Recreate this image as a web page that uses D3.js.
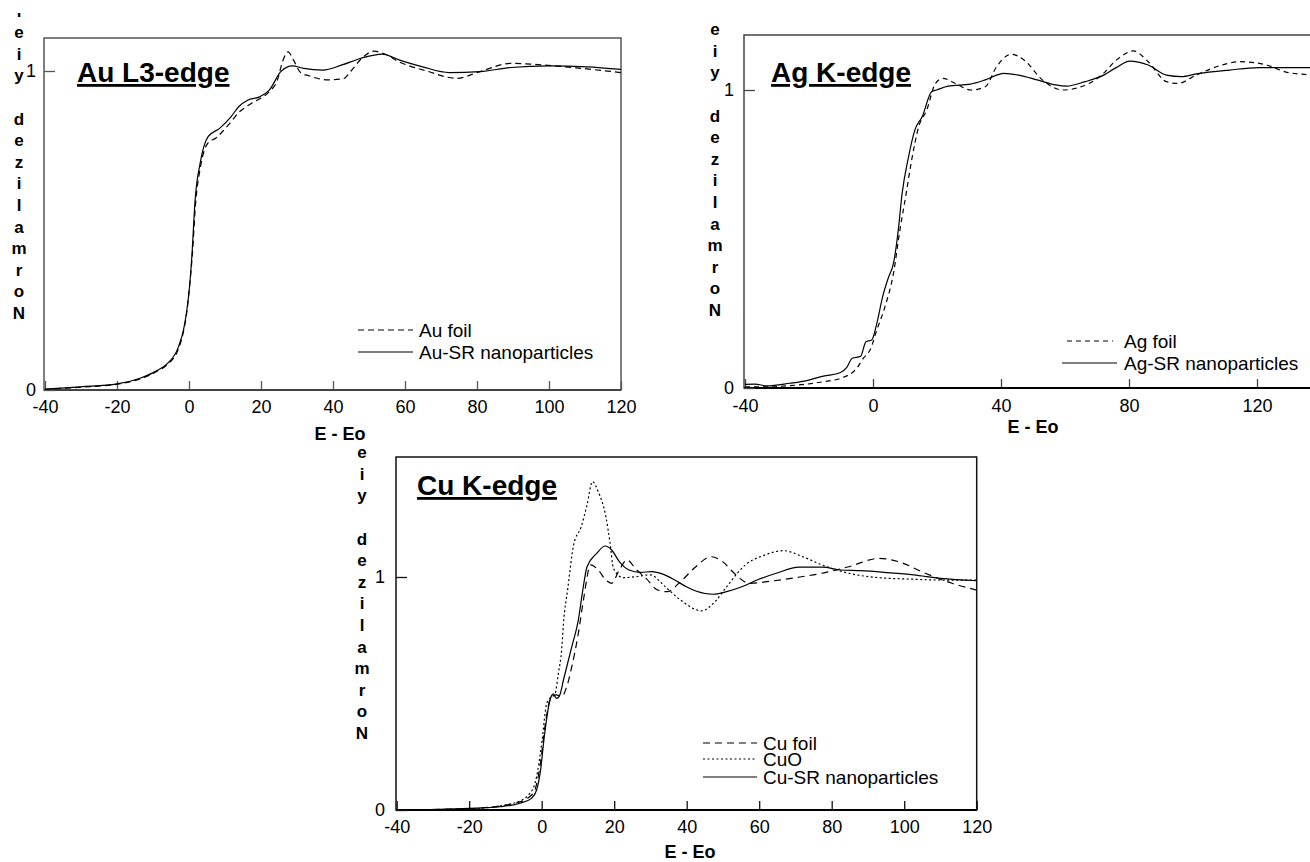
<!DOCTYPE html>
<html><head><meta charset="utf-8">
<script src="https://cdn.jsdelivr.net/npm/d3@7"></script>
<style>
body{margin:0;background:#fff;}
svg{display:block;font-family:"Liberation Sans",Arial,Helvetica,sans-serif;}
</style></head><body>
<svg id="chart" width="1310" height="862"></svg>
<script>
// ---------- data ----------
const auTicks=[-40,-20,0,20,40,60,80,100,120];
const agTicks=[-40,0,40,80,120];
const cuTicks=[-40,-20,0,20,40,60,80,100,120];
const yTicks=[0,1];
const yLabelText="Normalized yiel";
const xLabelText="E - Eo";

const auFoil=[[-40,0.002],[-30,0.009],[-20,0.018],[-13.6,0.035],[-9,0.058],[-6.2,0.078],[-2.9,0.13],[-1.5,0.185],[-0.6,0.245],[0.2,0.33],[0.9,0.42],[1.8,0.58],[3.2,0.70],[5.3,0.775],[7.5,0.79],[9.7,0.815],[12,0.845],[13.8,0.87],[15.5,0.885],[17.5,0.9],[20,0.915],[22.3,0.935],[24.5,0.97],[26,1.03],[27.5,1.06],[29,1.035],[31,0.995],[33.3,0.985],[38.6,0.972],[42.9,0.976],[45,1.0],[48,1.04],[51.4,1.062],[54,1.055],[58.5,1.028],[66,1.0],[74.4,0.977],[80.8,0.998],[89.4,1.024],[97,1.02],[107.5,1.01],[120,0.995]];
const auNano=[[-40,0.003],[-30,0.01],[-20,0.019],[-13.6,0.037],[-9,0.06],[-6.2,0.081],[-2.9,0.136],[-1.5,0.19],[-0.6,0.25],[0.2,0.33],[0.8,0.42],[1.7,0.596],[3.1,0.711],[5.3,0.794],[8.5,0.82],[11.7,0.857],[13.8,0.888],[16.4,0.909],[19.6,0.919],[22.3,0.94],[25.5,0.998],[28.7,1.016],[31.9,1.008],[37.2,1.003],[42.5,1.019],[47.8,1.04],[53.7,1.053],[58.5,1.034],[64.9,1.013],[72.3,0.995],[80.8,0.998],[89.4,1.011],[100,1.016],[110.6,1.013],[120,1.005]];

const agFoil=[[-40,0.004],[-33,0.004],[-26,0.008],[-20.7,0.013],[-15,0.022],[-10.3,0.032],[-5.1,0.066],[-3,0.1],[-0.9,0.128],[1.2,0.195],[3.75,0.273],[6.4,0.385],[8.4,0.53],[10.2,0.642],[12,0.76],[14.3,0.877],[16.8,0.933],[19.5,1.022],[21.8,1.039],[25.8,1.022],[30.5,1.0],[35.1,1.011],[38.6,1.078],[43.2,1.12],[47.8,1.095],[52.4,1.039],[59.4,1.0],[63.9,1.007],[70.9,1.045],[76.7,1.106],[81.4,1.131],[86,1.095],[91.7,1.028],[95.2,1.022],[101,1.05],[109.1,1.084],[114.8,1.095],[123,1.084],[128.8,1.061],[136.6,1.05],[140,1.045]];
const agNano=[[-40,0.012],[-36.9,0.013],[-33.2,0.007],[-26,0.016],[-20.7,0.025],[-15.5,0.04],[-10.3,0.051],[-8.2,0.069],[-6.5,0.1],[-3.9,0.106],[-2.2,0.155],[-0.4,0.161],[1.2,0.217],[3,0.306],[4.8,0.37],[6.4,0.418],[7.9,0.53],[9.1,0.653],[11,0.77],[13.1,0.866],[15.4,0.911],[18.3,0.994],[19.9,1.0],[23.5,1.013],[30.5,1.02],[35.1,1.034],[40.9,1.056],[45.5,1.05],[51.3,1.034],[57.1,1.017],[60.5,1.013],[66.3,1.028],[72.1,1.05],[76,1.075],[80.2,1.097],[86,1.084],[91.7,1.05],[96.4,1.045],[101,1.054],[111.4,1.067],[120.6,1.075],[128.8,1.075],[140,1.075]];

const cuFoil=[[-40,0.0],[-20,0.006],[-6.9,0.031],[-2.3,0.072],[-0.5,0.186],[0.9,0.358],[2.3,0.472],[4.1,0.494],[5.5,0.487],[6.9,0.529],[8.3,0.615],[10.1,0.758],[11.5,0.9],[13.5,1.052],[15.6,1.03],[17.7,0.987],[19.3,0.973],[21.4,1.03],[23.5,1.073],[26.2,1.03],[28.8,0.994],[32,0.944],[34.6,0.937],[38.3,0.98],[42.5,1.044],[46.7,1.087],[49.9,1.066],[53.1,1.016],[57.3,0.973],[63.6,0.983],[69.9,0.997],[77.3,1.016],[84.7,1.044],[93.1,1.08],[98.4,1.066],[105.8,1.016],[113.2,0.973],[120,0.944]];
const cuO=[[-40,0.0],[-20,0.005],[-7.8,0.029],[-3.2,0.072],[-1.4,0.143],[0,0.286],[1.4,0.458],[2.3,0.48],[3.7,0.5],[4.6,0.587],[5.5,0.687],[6.0,0.8],[7.2,0.951],[8.8,1.137],[10.9,1.216],[12.5,1.309],[14.0,1.409],[15.6,1.366],[17.7,1.259],[18.8,1.152],[19.8,1.037],[22.5,0.997],[25.6,1.001],[29.9,1.009],[34.1,0.958],[38.3,0.901],[44.1,0.855],[47.8,0.894],[51,0.958],[56.2,1.052],[61.5,1.094],[66.7,1.113],[72,1.087],[77.3,1.052],[84.7,1.016],[93.1,0.997],[101.6,0.991],[110,0.987],[120,0.987]];
const cuNano=[[-40,0.0],[-20,0.007],[-11.5,0.014],[-6,0.029],[-2.8,0.05],[-1.4,0.086],[-0.3,0.172],[0.6,0.3],[2.3,0.472],[3.2,0.498],[4.1,0.479],[5,0.494],[6,0.558],[8.3,0.701],[10.1,0.815],[11.2,0.93],[12.5,1.044],[15.1,1.1],[17.5,1.133],[19.3,1.116],[21.4,1.066],[24.1,1.03],[27.2,1.02],[30.4,1.023],[33.6,1.011],[36.7,0.987],[39.9,0.958],[42.5,0.94],[47.3,0.926],[51,0.937],[55.2,0.958],[59.4,0.987],[64.7,1.016],[71,1.042],[77.3,1.042],[82.6,1.03],[87.9,1.027],[95.2,1.019],[102.6,1.009],[110,0.994],[120,0.984]];

// ---------- layout ----------
const panels=[
 {key:"au",title:"Au L3-edge",xDomain:[-40,120],xRange:[45,621],yRange:[390,71],frameTop:38,frameLeft:44,frameRight:621,
  ticks:auTicks,xPad:10.5,yPad:8,frameColor:"#555",
  titleX:77,titleY:82,xLabX:340,xLabY:440,
  yLabX:19,yLabBase:319,yLabClip:13,
  series:[{name:"Au foil",data:auFoil,dash:"6,4"},{name:"Au-SR nanoparticles",data:auNano,dash:null}],
  legend:{x1:358,x2:413,tx:419,ys:[330,352]}},
 {key:"ag",title:"Ag K-edge",xDomain:[-40,140],xRange:[745,1321],yRange:[388,90],frameTop:35,frameLeft:744,frameRight:1321,
  ticks:agTicks,xPad:11,yPad:10,frameColor:"#444",
  titleX:771,titleY:82,xLabX:1033,xLabY:433,
  yLabX:715,yLabBase:316,yLabClip:17,
  series:[{name:"Ag foil",data:agFoil,dash:"5,4"},{name:"Ag-SR nanoparticles",data:agNano,dash:null}],
  legend:{x1:[1067,1062],x2:[1113,1117],tx:1124,ys:[341,363]}},
 {key:"cu",title:"Cu K-edge",xDomain:[-40,120],xRange:[396.7,976.7],yRange:[810,577],frameTop:457,frameLeft:396,frameRight:976.7,
  ticks:cuTicks,xPad:10,yPad:11,frameColor:"#111",
  titleX:417,titleY:495,xLabX:690,xLabY:858,
  yLabX:362,yLabBase:739,yLabClip:441,
  series:[{name:"Cu foil",data:cuFoil,dash:"7,5"},{name:"CuO",data:cuO,dash:"2,2.5"},{name:"Cu-SR nanoparticles",data:cuNano,dash:null}],
  legend:{x1:703,x2:757,tx:763,ys:[743,759,777]}}
];

const FONT='"Liberation Sans",Arial,Helvetica,sans-serif';
const fmt=d=>String(d); // hyphen-minus, as in the original
const svg=d3.select("#chart");
svg.append("rect").attr("width",1310).attr("height",862).attr("fill","#fff");
const defs=svg.append("defs");

panels.forEach(p=>{
  const x=d3.scaleLinear().domain(p.xDomain).range(p.xRange);
  const y=d3.scaleLinear().domain([0,1]).range(p.yRange);
  const g=svg.append("g");
  const y0=p.yRange[0];

  defs.append("clipPath").attr("id","clip-"+p.key).append("rect")
    .attr("x",p.frameLeft).attr("y",p.frameTop).attr("width",p.frameRight-p.frameLeft).attr("height",y0-p.frameTop);
  defs.append("clipPath").attr("id","lab-"+p.key).append("rect")
    .attr("x",p.yLabX-20).attr("y",p.yLabClip).attr("width",40).attr("height",400);

  // frame
  g.append("rect").attr("x",p.frameLeft).attr("y",p.frameTop)
    .attr("width",p.frameRight-p.frameLeft).attr("height",y0-p.frameTop)
    .attr("fill","none").attr("stroke",p.frameColor).attr("stroke-width",1.5);

  // x axis
  const gx=g.append("g").attr("transform",`translate(0,${y0})`)
    .call(d3.axisBottom(x).tickValues(p.ticks).tickFormat(fmt).tickSizeInner(-9).tickSizeOuter(0).tickPadding(p.xPad));
  gx.select(".domain").remove();
  gx.selectAll(".tick line").attr("stroke",p.frameColor).attr("stroke-width",1.3);
  gx.selectAll("text").attr("font-size",18).attr("font-family",FONT).attr("fill","#000");
  g.append("line").attr("x1",p.frameLeft).attr("x2",p.frameRight).attr("y1",y0).attr("y2",y0)
    .attr("stroke",p.key==="au"?"#444":"#000").attr("stroke-width",1.8);

  // y axis
  const gy=g.append("g").attr("transform",`translate(${p.frameLeft},0)`)
    .call(d3.axisLeft(y).tickValues(yTicks).tickFormat(fmt).tickSizeInner(-11).tickSizeOuter(0).tickPadding(p.yPad));
  gy.select(".domain").remove();
  gy.selectAll(".tick line").attr("stroke",p.frameColor).attr("stroke-width",1.3);
  gy.selectAll("text").attr("font-size",18).attr("font-family",FONT).attr("fill","#000");

  // curves
  const line=d3.line().x(d=>x(d[0])).y(d=>y(d[1])).curve(d3.curveMonotoneX);
  p.series.forEach(s=>{
    g.append("path").attr("clip-path",`url(#clip-${p.key})`).attr("d",line(s.data))
      .attr("fill","none").attr("stroke","#000").attr("stroke-width",1.2)
      .attr("stroke-dasharray",s.dash);
  });

  // title
  g.append("text").attr("x",p.titleX).attr("y",p.titleY).text(p.title)
    .attr("font-size",28).attr("font-weight","bold").attr("font-family",FONT)
    .style("text-decoration","underline");

  // x label
  g.append("text").attr("x",p.xLabX).attr("y",p.xLabY).attr("text-anchor","middle")
    .attr("font-size",18).attr("font-weight","bold").attr("font-family",FONT).text(xLabelText);

  // y label: stacked upright letters, bottom to top
  const gl=g.append("g").attr("clip-path",`url(#lab-${p.key})`);
  yLabelText.split("").forEach((c,i)=>{
    gl.append("text").attr("x",p.yLabX).attr("y",p.yLabBase-i*21.6).attr("text-anchor","middle")
      .attr("font-size",17).attr("font-weight","bold").attr("font-family",FONT).text(c);
  });

  // legend
  p.series.forEach((s,i)=>{
    const L=p.legend;
    const x1=Array.isArray(L.x1)?L.x1[i]:L.x1, x2=Array.isArray(L.x2)?L.x2[i]:L.x2;
    g.append("line").attr("x1",x1).attr("x2",x2).attr("y1",L.ys[i]).attr("y2",L.ys[i])
      .attr("stroke","#000").attr("stroke-width",1.2).attr("stroke-dasharray",s.dash);
    g.append("text").attr("x",L.tx).attr("y",L.ys[i]+7).attr("font-size",19).attr("font-family",FONT).text(s.name);
  });
});
</script>
</body></html>
